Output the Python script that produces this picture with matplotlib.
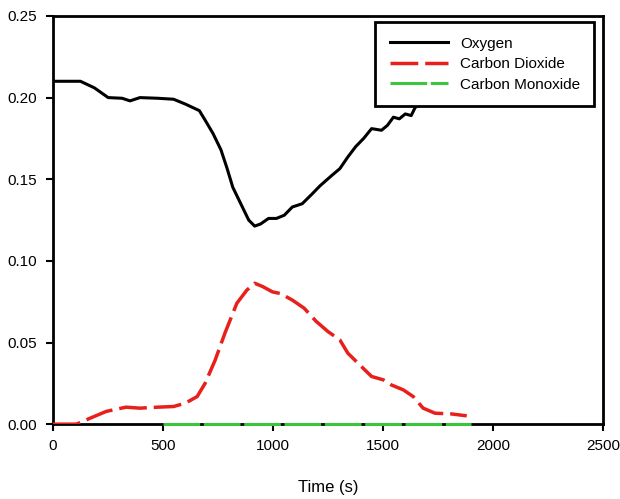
import matplotlib
matplotlib.use("Agg")
import matplotlib.pyplot as plt
import numpy as np

plt.rcParams["font.family"] = ["Liberation Sans", "DejaVu Sans"]

# Gas concentration (volume fraction) vs time
o2_t = [0, 126, 189, 252, 315, 351, 396, 477, 549, 603, 666, 693, 728, 764,
        791, 818, 854, 890, 917, 944, 980, 1016, 1052, 1088, 1133, 1178, 1214,
        1268, 1304, 1340, 1376, 1412, 1448, 1493, 1520, 1547, 1574, 1601, 1628,
        1646, 1700, 1780, 1880]
o2 = [0.210, 0.210, 0.206, 0.200, 0.1996, 0.198, 0.200, 0.1996, 0.199, 0.196,
      0.192, 0.186, 0.178, 0.168, 0.157, 0.145, 0.135, 0.125, 0.1213, 0.1226,
      0.126, 0.126, 0.128, 0.133, 0.135, 0.141, 0.146, 0.1524, 0.1565, 0.1636,
      0.170, 0.175, 0.181, 0.180, 0.183, 0.188, 0.187, 0.190, 0.189, 0.194,
      0.198, 0.204, 0.208]

co2_t = [0, 108, 171, 243, 333, 396, 477, 549, 603, 656, 692, 737, 782, 836,
         881, 917, 953, 998, 1034, 1088, 1142, 1196, 1250, 1304, 1340, 1394,
         1448, 1502, 1538, 1592, 1637, 1682, 1736, 1808, 1880]
co2 = [0.0, 0.0, 0.0037, 0.0078, 0.0104, 0.0098, 0.0104, 0.0108, 0.0129,
       0.0169, 0.025, 0.039, 0.0557, 0.074, 0.082, 0.0863, 0.0843, 0.081,
       0.080, 0.076, 0.071, 0.063, 0.0567, 0.0516, 0.0435, 0.0363, 0.0292,
       0.0271, 0.024, 0.021, 0.0169, 0.0098, 0.0067, 0.0063, 0.0051]

co_t = [500, 900, 1300, 1900]
co = [0.0, 0.0, 0.0, 0.0]

fig = plt.figure(figsize=(6.2, 4.99), dpi=100)
ax = fig.add_axes([0.085, 0.150, 0.888, 0.818])

ax.plot(o2_t, o2, color="black", lw=2.2, label="Oxygen", zorder=3)
ax.plot(co2_t, co2, color="#e8201c", lw=2.5, dashes=(8, 2),
        label="Carbon Dioxide", zorder=3)
ax.plot(co_t, co, color="#3cc43c", lw=2.2, dashes=(12, 1.2),
        label="Carbon Monoxide", zorder=3, clip_on=False)

ax.set_xlim(0, 2500)
ax.set_ylim(0, 0.25)
ax.set_xticks(np.arange(0, 2501, 500))
ax.set_yticks(np.arange(0, 0.251, 0.05))
ax.yaxis.set_major_formatter(matplotlib.ticker.FormatStrFormatter("%.2f"))
ax.tick_params(direction="out", length=5, width=1.5, labelsize=11,
               pad=6, top=False, right=False)
for sp in ax.spines.values():
    sp.set_linewidth(2)

ax.set_xlabel("Time (s)", fontsize=12, labelpad=19)

leg = ax.legend(loc="upper right", bbox_to_anchor=(0.984, 0.985),
                fontsize=11, handlelength=3.8, handletextpad=0.8,
                frameon=True, fancybox=False, borderpad=0.95,
                labelspacing=0.43, borderaxespad=0)
leg.get_frame().set_edgecolor("black")
leg.get_frame().set_linewidth(2)
leg.get_frame().set_alpha(1)

fig.savefig("out.png", dpi=100)
